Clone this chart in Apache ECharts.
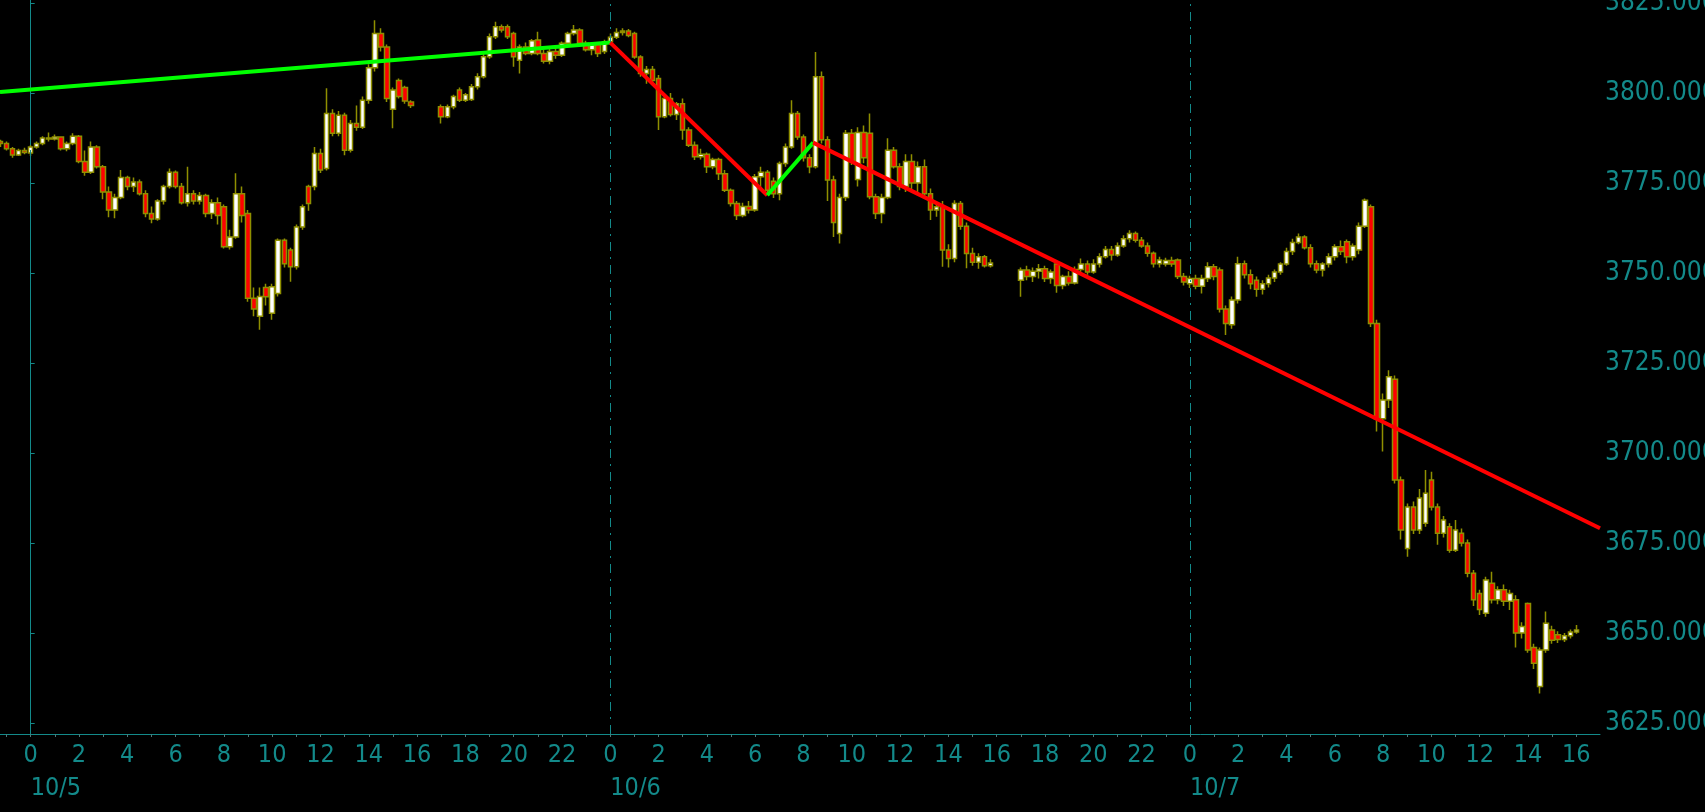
<!DOCTYPE html>
<html>
<head>
<meta charset="utf-8">
<script src="https://cdn.jsdelivr.net/npm/echarts@6/dist/echarts.min.js"></script>
<style>
html,body{margin:0;padding:0;background:#000;}
#chart{width:1705px;height:812px;}
</style>
</head>
<body>
<div id="chart"></div>
<script>
// ---- data: [hour since 10/5 00:00, open, close, low, high] (15-minute bars) ----
const sessionA = [
[-1.25,3786.5,3786.0,3785.0,3787.0],[-1.00,3786.0,3784.5,3784.0,3786.5],[-0.75,3784.5,3782.8,3782.0,3785.0],
[-0.50,3782.8,3784.0,3782.5,3784.5],[-0.25,3784.0,3783.5,3783.0,3784.8],[0.00,3783.3,3785.0,3782.5,3785.5],
[0.25,3785.0,3786.0,3784.5,3786.5],[0.50,3786.0,3787.5,3785.5,3788.0],[0.75,3787.5,3787.2,3786.5,3789.0],
[1.00,3787.2,3787.8,3786.8,3788.5],[1.25,3787.8,3784.5,3784.0,3788.0],[1.50,3784.5,3786.0,3783.8,3786.5],
[1.75,3786.0,3788.0,3785.5,3788.8],[2.00,3788.0,3781.0,3780.5,3788.3],[2.25,3781.0,3778.0,3777.0,3784.0],
[2.50,3778.0,3785.0,3777.5,3786.5],[2.75,3785.0,3779.5,3779.0,3785.5],[3.00,3779.5,3772.5,3770.5,3780.0],
[3.25,3772.5,3767.5,3765.5,3774.0],[3.50,3767.5,3771.0,3765.2,3772.0],[3.75,3771.0,3776.5,3770.5,3778.6],
[4.00,3776.5,3774.0,3773.0,3777.0],[4.25,3774.0,3775.3,3772.5,3776.5],[4.50,3775.3,3772.0,3771.5,3776.0],
[4.75,3772.0,3766.5,3765.5,3773.0],[5.00,3766.5,3765.0,3763.8,3768.5],[5.25,3765.0,3770.0,3764.5,3770.5],
[5.50,3770.0,3774.0,3769.0,3774.5],[5.75,3774.0,3778.0,3773.5,3779.0],[6.00,3778.0,3774.0,3773.5,3778.5],
[6.25,3774.0,3769.5,3769.0,3775.0],[6.50,3769.5,3772.0,3768.5,3779.5],[6.75,3772.0,3770.0,3769.0,3773.0],
[7.00,3770.0,3771.5,3769.0,3772.5],[7.25,3771.5,3766.5,3765.5,3772.0],[7.50,3766.5,3769.5,3765.0,3770.5],
[7.75,3769.5,3766.0,3763.5,3771.0],[8.00,3768.4,3757.3,3756.8,3769.0],[8.25,3757.3,3760.0,3756.5,3762.0],
[8.50,3760.0,3772.0,3759.5,3777.7],[8.75,3772.0,3766.0,3764.0,3774.0],[9.00,3766.5,3743.0,3742.0,3767.5],
[9.25,3743.0,3740.0,3738.0,3746.0],[9.50,3738.0,3743.5,3734.2,3746.0],[9.75,3746.0,3743.4,3741.0,3747.0],
[10.00,3738.8,3746.2,3737.0,3747.0],[10.25,3744.3,3759.1,3743.5,3759.6],[10.50,3759.1,3752.6,3751.5,3759.6],
[10.75,3756.4,3751.7,3747.6,3757.0],[11.00,3751.7,3762.8,3751.0,3763.5],[11.25,3762.8,3768.4,3762.0,3769.0],
[11.50,3774.0,3769.3,3767.3,3774.5],[11.75,3774.0,3783.2,3773.0,3785.0],[12.00,3783.2,3778.6,3777.8,3784.5],
[12.25,3779.0,3794.3,3778.5,3801.3],[12.50,3794.3,3788.8,3788.0,3795.5],[12.75,3788.8,3793.8,3788.0,3795.0],
[13.00,3793.8,3784.1,3782.7,3794.5],[13.25,3784.1,3791.5,3783.5,3792.5],[13.50,3791.5,3790.5,3789.5,3796.5],
[13.75,3790.5,3798.0,3790.0,3799.0],[14.00,3798.0,3807.0,3797.0,3808.0],[14.25,3807.0,3816.5,3806.0,3820.2],
[14.50,3816.5,3812.8,3811.5,3818.0],[14.75,3812.8,3798.5,3797.5,3813.5],[15.00,3795.5,3800.8,3790.2,3801.5],
[15.25,3803.5,3799.0,3798.5,3804.0],[15.50,3801.5,3797.8,3797.0,3802.0],[15.75,3797.5,3796.5,3795.8,3798.0]
];
const sessionB = [
[17.00,3796.2,3793.4,3791.5,3796.8],[17.25,3793.4,3796.2,3793.0,3796.8],[17.50,3796.2,3799.0,3795.5,3799.5],
[17.75,3800.8,3798.0,3797.5,3801.5],[18.00,3798.0,3799.5,3797.5,3800.0],[18.25,3798.2,3801.7,3797.8,3802.5],
[18.50,3801.7,3804.5,3801.0,3805.5],[18.75,3804.5,3810.1,3804.0,3811.0],[19.00,3810.1,3815.6,3809.5,3816.5],
[19.25,3815.6,3818.4,3815.0,3819.8],[19.50,3818.4,3817.5,3816.8,3819.0],[19.75,3818.4,3815.6,3815.0,3819.0],
[20.00,3816.5,3810.1,3807.3,3817.0],[20.25,3809.1,3812.8,3805.4,3813.5],[20.50,3812.8,3811.0,3810.5,3814.0],
[20.75,3811.0,3814.5,3810.5,3815.0],[21.00,3814.7,3811.0,3810.5,3817.0],[21.25,3811.0,3808.8,3808.2,3812.0],
[21.50,3808.8,3811.5,3808.0,3812.5],[21.75,3811.5,3810.5,3809.5,3813.0],[22.00,3810.5,3813.8,3810.0,3814.3],
[22.25,3813.8,3816.5,3813.3,3817.0],[22.50,3816.5,3817.5,3816.0,3818.9],[22.75,3817.5,3813.8,3813.0,3818.0],
[23.00,3813.8,3812.0,3811.5,3814.5],[23.25,3812.0,3813.5,3810.5,3814.0],[23.50,3813.5,3811.0,3810.0,3814.0],
[23.75,3811.5,3814.2,3810.8,3814.8],[24.00,3814.2,3815.5,3813.5,3816.5],[24.25,3815.5,3816.8,3815.0,3818.0],
[24.50,3816.8,3817.2,3816.0,3818.0],[24.75,3817.2,3816.0,3815.5,3817.8],[25.00,3816.5,3810.0,3809.5,3817.0],
[25.25,3810.0,3805.4,3804.5,3810.5],[25.50,3805.4,3806.5,3802.6,3807.5],[25.75,3806.5,3803.5,3802.5,3807.5],
[26.00,3804.0,3793.4,3789.7,3805.0],[26.25,3793.4,3798.5,3793.0,3799.0],[26.50,3798.5,3794.0,3793.5,3800.0],
[26.75,3794.0,3797.0,3792.5,3797.5],[27.00,3797.0,3789.7,3787.0,3798.5],[27.25,3789.7,3785.5,3785.0,3790.5],
[27.50,3785.5,3782.3,3781.4,3786.5],[27.75,3782.3,3783.0,3781.5,3784.5],[28.00,3783.0,3779.5,3777.8,3783.5],
[28.25,3779.5,3781.5,3778.8,3782.0],[28.50,3781.5,3777.6,3775.8,3782.0],[28.75,3777.6,3773.0,3772.5,3778.6],
[29.00,3773.0,3769.3,3768.5,3773.5],[29.25,3769.3,3766.0,3764.7,3770.0],[29.50,3766.0,3768.5,3765.5,3769.5],
[29.75,3768.5,3767.5,3766.5,3770.0],[30.00,3767.5,3776.7,3767.0,3777.5],[30.25,3776.7,3778.0,3773.0,3779.5],
[30.50,3778.0,3773.0,3772.0,3778.6],[30.75,3775.5,3772.0,3770.8,3776.5],[31.00,3772.0,3780.4,3770.2,3781.0],
[31.25,3780.4,3785.0,3779.5,3786.0],[31.50,3785.0,3794.3,3784.5,3798.0],[31.75,3794.3,3787.8,3787.0,3795.0],
[32.00,3787.8,3782.0,3781.0,3788.5],[32.25,3782.0,3779.5,3777.7,3783.0],[32.50,3779.5,3804.5,3779.0,3811.4],
[32.75,3804.5,3787.0,3786.0,3806.0],[33.00,3787.0,3775.8,3770.0,3788.0],[33.25,3775.8,3764.0,3760.0,3777.0],
[33.50,3761.0,3771.0,3758.2,3772.0],[33.75,3771.0,3788.8,3770.0,3789.7],[34.00,3788.8,3781.0,3780.0,3790.0],
[34.25,3776.0,3789.0,3774.0,3790.5],[34.50,3789.0,3782.0,3780.5,3791.0],[34.75,3788.8,3771.2,3770.5,3794.3],
[35.00,3771.2,3766.5,3765.0,3772.0],[35.25,3766.5,3771.0,3763.8,3772.0],[35.50,3771.0,3784.1,3770.5,3787.4],
[35.75,3784.1,3779.5,3779.0,3785.0],[36.00,3779.5,3774.0,3773.0,3780.5],[36.25,3774.0,3781.0,3772.5,3783.0],
[36.50,3781.0,3775.0,3773.0,3783.0],[36.75,3775.0,3779.5,3772.0,3781.0],[37.00,3779.5,3772.0,3771.0,3781.5],
[37.25,3772.0,3767.5,3764.7,3773.5],[37.50,3767.5,3768.4,3765.6,3769.5],[37.75,3768.4,3756.4,3751.7,3770.0],
[38.00,3756.4,3754.0,3751.5,3758.0],[38.25,3754.0,3769.3,3753.0,3770.2],[38.50,3769.3,3763.0,3762.0,3770.0],
[38.75,3763.0,3755.4,3751.3,3764.0],[39.00,3755.4,3753.0,3752.0,3757.0],[39.25,3753.0,3754.5,3751.2,3755.5],
[39.50,3754.5,3752.0,3751.5,3755.0],[39.75,3752.0,3752.8,3751.5,3753.8]
];
const sessionC = [
[41.00,3748.0,3750.8,3743.4,3751.5],[41.25,3750.8,3749.0,3748.0,3752.0],[41.50,3749.0,3750.5,3747.5,3751.5],
[41.75,3750.5,3751.2,3748.5,3752.5],[42.00,3751.2,3748.5,3747.5,3752.0],[42.25,3748.5,3750.3,3747.0,3751.0],
[42.50,3752.5,3746.5,3744.5,3753.5],[42.75,3746.5,3749.0,3745.5,3749.5],[43.00,3749.0,3747.2,3746.5,3750.5],
[43.25,3747.2,3751.0,3746.8,3751.8],[43.50,3751.0,3752.5,3750.0,3754.0],[43.75,3752.5,3750.3,3749.5,3753.5],
[44.00,3750.3,3752.5,3749.8,3753.8],[44.25,3752.5,3754.5,3751.5,3755.5],[44.50,3754.5,3756.5,3754.0,3757.5],
[44.75,3756.5,3755.0,3753.5,3757.5],[45.00,3755.0,3757.5,3754.5,3758.5],[45.25,3757.5,3759.5,3757.0,3760.5],
[45.50,3759.5,3761.0,3758.5,3761.9],[45.75,3761.0,3759.1,3758.5,3761.5],[46.00,3759.1,3757.5,3757.0,3760.0],
[46.25,3757.5,3755.5,3754.5,3758.5],[46.50,3755.5,3752.6,3751.5,3756.0],[46.75,3752.6,3753.6,3751.5,3754.5],
[47.00,3752.5,3753.5,3751.8,3754.2],[47.25,3753.5,3752.5,3751.7,3754.5],[47.50,3753.6,3749.0,3748.3,3754.0],
[47.75,3749.0,3747.5,3746.5,3750.0],[48.00,3747.0,3748.5,3745.8,3749.2],[48.25,3748.5,3746.3,3745.5,3749.5],
[48.50,3746.3,3748.5,3744.3,3749.5],[48.75,3748.5,3751.7,3747.5,3753.0],[49.00,3751.7,3749.0,3748.0,3752.5],
[49.25,3750.8,3740.0,3739.0,3751.5],[49.50,3740.0,3736.0,3732.8,3741.0],[49.75,3735.6,3742.5,3734.5,3743.5],
[50.00,3742.5,3752.6,3741.5,3754.5],[50.25,3752.6,3749.5,3748.5,3753.5],[50.50,3749.5,3747.0,3745.5,3751.0],
[50.75,3748.0,3745.5,3743.4,3749.0],[51.00,3745.5,3747.0,3744.0,3748.0],[51.25,3747.0,3748.6,3746.0,3749.5],
[51.50,3748.6,3750.3,3747.5,3751.0],[51.75,3750.3,3752.5,3749.5,3753.0],[52.00,3752.5,3756.0,3752.0,3757.0],
[52.25,3756.0,3758.5,3755.0,3759.5],[52.50,3758.5,3760.0,3758.0,3761.0],[52.75,3760.0,3757.0,3756.5,3760.5],
[53.00,3757.0,3752.6,3751.5,3758.0],[53.25,3752.6,3750.8,3749.9,3753.5],[53.50,3750.8,3752.5,3749.0,3753.0],
[53.75,3752.5,3754.5,3751.5,3755.5],[54.00,3754.5,3757.3,3753.5,3758.0],[54.25,3757.3,3756.0,3755.0,3759.0],
[54.50,3758.7,3754.5,3752.7,3759.3],[54.75,3754.5,3757.5,3753.5,3758.2],[55.00,3756.4,3763.0,3755.2,3764.0],
[55.25,3763.0,3770.2,3762.5,3770.7],[55.50,3768.4,3736.0,3735.0,3769.0],[55.75,3736.0,3709.5,3706.0,3737.0],
[56.00,3709.5,3714.7,3700.4,3716.5],[56.25,3714.7,3721.2,3712.5,3723.0],[56.50,3720.5,3692.5,3691.5,3721.5],
[56.75,3692.5,3678.6,3676.0,3693.5],[57.00,3673.5,3685.0,3671.2,3686.0],[57.25,3685.0,3678.6,3677.5,3686.5],
[57.50,3678.6,3687.5,3677.5,3690.0],[57.75,3680.5,3688.8,3679.5,3695.3],[58.00,3692.5,3685.0,3684.0,3694.8],
[58.25,3685.0,3677.7,3674.5,3686.0],[58.50,3677.7,3681.4,3676.5,3682.5],[58.75,3679.5,3673.0,3672.3,3680.5],
[59.00,3673.0,3678.6,3672.5,3681.4],[59.25,3677.7,3675.0,3674.0,3679.0],[59.50,3675.0,3666.6,3665.5,3676.0],
[59.75,3666.6,3659.2,3657.5,3667.5],[60.00,3661.0,3656.5,3655.0,3662.0],[60.25,3655.5,3664.7,3654.5,3665.6],
[60.50,3663.8,3659.2,3658.2,3667.0],[60.75,3659.2,3662.0,3658.0,3663.0],[61.00,3662.0,3658.8,3657.5,3663.5],
[61.25,3658.8,3661.0,3656.4,3662.0],[61.50,3659.2,3650.0,3646.0,3660.5],[61.75,3650.0,3651.8,3648.5,3653.0],
[62.00,3658.2,3645.3,3644.5,3658.5],[62.25,3646.0,3641.6,3640.0,3647.0],[62.50,3635.1,3645.3,3633.2,3646.0],
[62.75,3645.3,3652.7,3644.5,3656.0],[63.00,3650.8,3648.0,3647.0,3652.0],[63.25,3649.5,3648.2,3647.2,3650.5],
[63.50,3648.2,3649.2,3647.5,3650.0],[63.75,3649.2,3650.3,3648.5,3651.0],[64.00,3650.3,3650.8,3649.8,3652.2]
];

// trend lines drawn on the chart: [hour, price]
const greenTrend1 = [[-1.27, 3800.3], [24.0, 3814.0]];
const redTrend1   = [[24.0, 3814.0], [30.5, 3771.6]];
const greenTrend2 = [[30.5, 3771.6], [32.4, 3786.2]];
const redTrend2   = [[32.4, 3786.2], [64.98, 3679.1]];

// axes
const hourLabels = [0,2,4,6,8,10,12,14,16,18,20,22,24,26,28,30,32,34,36,38,40,42,44,46,48,50,52,54,56,58,60,62,64];
const hourTicks = [-1,0,1,2,3,4,5,6,7,8,9,10,11,12,13,14,15,16,17,18,19,20,21,22,23,24,25,26,27,28,29,30,31,32,33,34,35,36,37,38,39,40,41,42,43,44,45,46,47,48,49,50,51,52,53,54,55,56,57,58,59,60,61,62,63,64];
const dayStarts = [0, 24, 48];
const dateLabels = ['10/5', '10/6', '10/7'];
const priceTicks = [3625, 3650, 3675, 3700, 3725, 3750, 3775, 3800, 3825];

const X_MIN = -1.27, X_MAX = 64.98;
const Y_MIN = 3621.94, Y_MAX = 3825.83;

const TEAL = '#138a8a';
const FONT = "'DejaVu Sans Condensed', 'DejaVu Sans', sans-serif";

const candles = sessionA.concat(sessionB, sessionC);

const chart = echarts.init(document.getElementById('chart'), null, {renderer: 'canvas'});
function trend(name, data, color) {
  return {
    name: name, type: 'line', data: data, symbol: 'none', z: 5,
    lineStyle: {color: color, width: 4}, silent: true, animation: false
  };
}
chart.setOption({
  backgroundColor: '#000000',
  animation: false,
  grid: {left: 0, right: 105, top: 0, bottom: 78, containLabel: false, outerBoundsMode: 'none'},
  xAxis: [{
    type: 'value', min: X_MIN, max: X_MAX,
    axisLine: {show: true, onZero: false, lineStyle: {color: TEAL, width: 1}},
    axisTick: {show: true, customValues: hourTicks, length: 3, lineStyle: {color: '#4a7a7a'}},
    axisLabel: {
      customValues: hourLabels, color: TEAL, fontSize: 25, fontFamily: FONT, margin: 9,
      formatter: function (v) { return String(((Math.round(v) % 24) + 24) % 24); }
    },
    splitLine: {show: false}
  }, {
    type: 'value', min: X_MIN, max: X_MAX, position: 'bottom', offset: 33,
    axisLine: {show: false}, axisTick: {show: false},
    axisLabel: {
      customValues: dayStarts, color: TEAL, fontSize: 25, fontFamily: FONT, margin: 9, align: 'left',
      formatter: function (v) { return dateLabels[dayStarts.indexOf(Math.round(v))] || ''; }
    },
    splitLine: {show: false}
  }],
  yAxis: {
    type: 'value', position: 'right', min: Y_MIN, max: Y_MAX, scale: true,
    axisLine: {show: true, lineStyle: {color: TEAL, width: 1}},
    axisTick: {show: true, customValues: priceTicks, length: 4, lineStyle: {color: TEAL}},
    axisLabel: {
      customValues: priceTicks, color: TEAL, fontSize: 26, fontFamily: FONT, margin: 5,
      formatter: function (v) { return v.toFixed(3); }
    },
    splitLine: {show: false}
  },
  series: [{
    name: 'price', type: 'candlestick', xAxisIndex: 0,
    data: candles, encode: {x: 0, y: [1, 2, 3, 4]},
    barWidth: 5,
    itemStyle: {color: '#ffffff', color0: '#ff0000', borderColor: '#8f8f00', borderColor0: '#8f8f00', borderWidth: 1.5},
    markLine: {
      silent: true, symbol: 'none', label: {show: false}, animation: false,
      lineStyle: {color: TEAL, width: 1, type: [9, 6, 2, 6]},
      data: dayStarts.map(function (d) { return {xAxis: d}; })
    }
  },
  trend('green1', greenTrend1, '#00ff00'),
  trend('red1', redTrend1, '#ff0000'),
  trend('green2', greenTrend2, '#00ff00'),
  trend('red2', redTrend2, '#ff0000')
  ]
});
</script>
</body>
</html>
